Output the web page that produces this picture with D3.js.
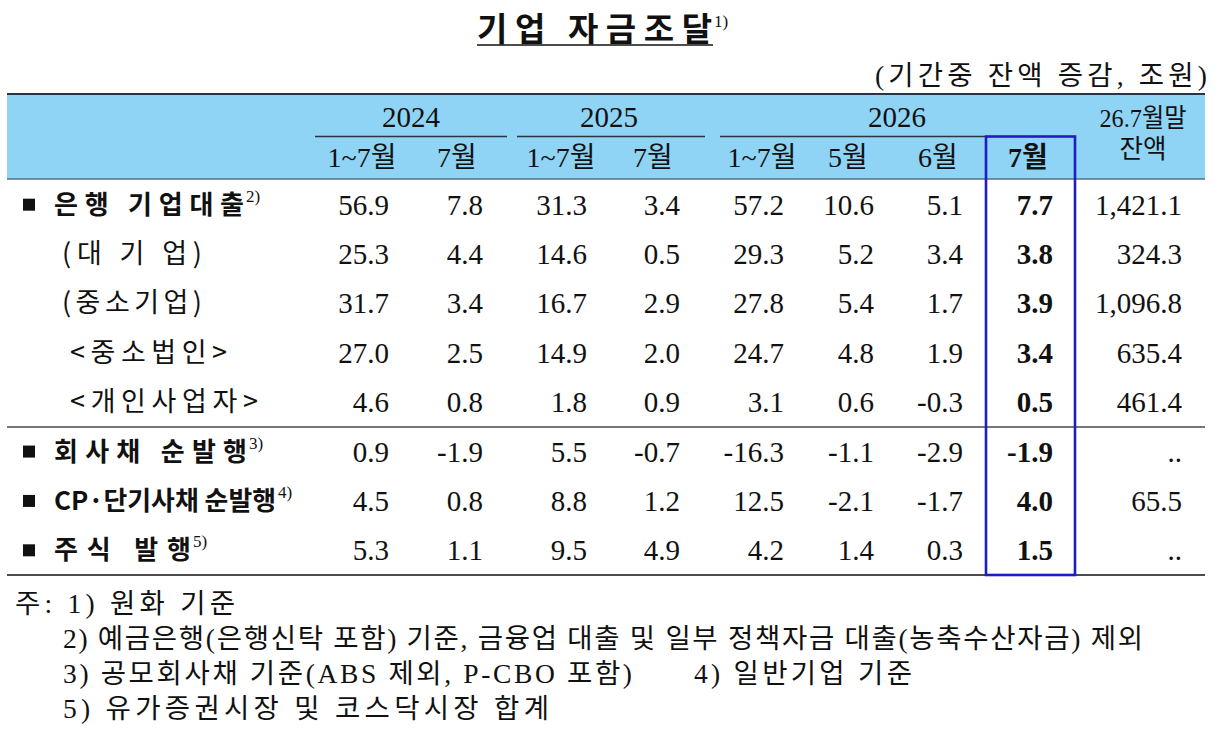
<!DOCTYPE html>
<html>
<head>
<meta charset="utf-8">
<script src="https://cdn.jsdelivr.net/npm/d3@7"></script>
<style>
  body { margin: 0; background: #fff; }
  svg { display: block; }
</style>
</head>
<body>
<script>
// Table text and values
const title = '기업 자금조달';
const titleNote = '1)';
const unitText = '(기간중 잔액 증감, 조원)';

const yearGroups = ['2024', '2025', '2026'];
const colHeads = ['1~7월', '7월', '1~7월', '7월', '1~7월', '5월', '6월', '7월'];
const balanceHead = ['26.7월말', '잔액'];

const rowLabels = [
    '은행  기업대출',
    '(대  기  업)',
    '(중소기업)',
    '<중소법인>',
    '<개인사업자>',
    '회사채 순발행',
    'CP·단기사채 순발행',
    '주식 발행',
];
const rowNotes = ['2)', '', '', '', '', '3)', '4)', '5)'];
const rowLevel = [0, 1, 1, 2, 2, 0, 0, 0];

const y2024Ytd = [56.9, 25.3, 31.7, 27.0, 4.6, 0.9, 4.5, 5.3];
const y2024Jul = [7.8, 4.4, 3.4, 2.5, 0.8, -1.9, 0.8, 1.1];
const y2025Ytd = [31.3, 14.6, 16.7, 14.9, 1.8, 5.5, 8.8, 9.5];
const y2025Jul = [3.4, 0.5, 2.9, 2.0, 0.9, -0.7, 1.2, 4.9];
const y2026Ytd = [57.2, 29.3, 27.8, 24.7, 3.1, -16.3, 12.5, 4.2];
const y2026May = [10.6, 5.2, 5.4, 4.8, 0.6, -1.1, -2.1, 1.4];
const y2026Jun = [5.1, 3.4, 1.7, 1.9, -0.3, -2.9, -1.7, 0.3];
const y2026Jul = [7.7, 3.8, 3.9, 3.4, 0.5, -1.9, 4.0, 1.5];
const balance = [1421.1, 324.3, 1096.8, 635.4, 461.4, null, 65.5, null];

const footnotes = [
    '주: 1)  원화  기준',
    '2) 예금은행(은행신탁 포함) 기준, 금융업 대출 및 일부 정책자금 대출(농축수산자금) 제외',
    '3) 공모회사채 기준(ABS 제외, P-CBO 포함)',
    '4) 일반기업 기준',
    '5) 유가증권시장 및 코스닥시장 합계',
];

// Layout
const W = 1219, H = 740;
const left = 7, right = 1205;
const headTop = 94, headBottom = 179, bodyBottom = 575;
const serif = "'Liberation Serif', 'Noto Sans CJK KR', serif";
const gothic = "'Noto Sans CJK KR', sans-serif";

const columns = [y2024Ytd, y2024Jul, y2025Ytd, y2025Jul, y2026Ytd, y2026May, y2026Jun, y2026Jul];

// right edge of numbers per column, header centres per column
const xRight = d3.scaleOrdinal().domain(d3.range(9))
    .range([389, 483, 587, 680, 784, 874, 963, 1053, 1182]);
const xHead = d3.scaleOrdinal().domain(d3.range(9))
    .range([362, 457, 561, 653, 762, 848, 938, 1028, 1143]);
const groupSpan = [[315, 507], [517, 705], [720, 985]];
const groupCenter = [411, 609, 897];

const yRow = d3.scaleBand().domain(d3.range(rowLabels.length)).range([headTop + 86, bodyBottom]);
const rowMid = (i) => yRow(i) + yRow.bandwidth() / 2;

// label widths taken from the reference layout
const labelWidth = [190, 140, 140, 157, 188, 193, 222, 137];
const labelX = [54, 62, 70];

// plain hyphen for negatives, as in the source table
const locale = d3.formatLocale({ decimal: '.', thousands: ',', grouping: [3], currency: ['', ''], minus: '-' });
const fmt = locale.format(',.1f');

const svg = d3.select('body').append('svg')
    .attr('width', W)
    .attr('height', H);

svg.append('rect').attr('width', W).attr('height', H).attr('fill', '#fff');

// Title
svg.append('text')
    .attr('x', 477).attr('y', 41)
    .attr('textLength', 235).attr('lengthAdjust', 'spacing')
    .style('font-family', gothic).style('font-weight', 700).style('font-size', '33px')
    .attr('fill', '#111')
    .text(title);
svg.append('line')
    .attr('x1', 477).attr('x2', 713).attr('y1', 45).attr('y2', 45)
    .attr('stroke', '#111').attr('stroke-width', 1.6);
svg.append('text')
    .attr('x', 714).attr('y', 27)
    .style('font-family', serif).style('font-size', '17px')
    .attr('fill', '#111')
    .text(titleNote);

// Unit
svg.append('text')
    .attr('x', 875).attr('y', 85)
    .attr('textLength', 332).attr('lengthAdjust', 'spacing')
    .style('font-family', serif).style('font-size', '27.5px')
    .attr('fill', '#111')
    .text(unitText);

// Header band
svg.append('rect')
    .attr('x', left).attr('y', headTop)
    .attr('width', right - left).attr('height', headBottom - headTop)
    .attr('fill', '#8fd3f5');
svg.append('line')
    .attr('x1', left).attr('x2', right).attr('y1', headTop).attr('y2', headTop)
    .attr('stroke', '#2b3540').attr('stroke-width', 2);
svg.append('line')
    .attr('x1', left).attr('x2', right).attr('y1', headBottom).attr('y2', headBottom)
    .attr('stroke', '#5d6e7e').attr('stroke-width', 1.5);

// Year groups
yearGroups.forEach((yr, g) => {
    svg.append('text')
        .attr('x', groupCenter[g]).attr('y', 127)
        .attr('text-anchor', 'middle')
        .style('font-family', serif).style('font-size', '29px')
        .attr('fill', '#111')
        .text(yr);
    svg.append('line')
        .attr('x1', groupSpan[g][0]).attr('x2', groupSpan[g][1])
        .attr('y1', 136.5).attr('y2', 136.5)
        .attr('stroke', '#2b3540').attr('stroke-width', 1.5);
});

// Column heads
colHeads.forEach((h, c) => {
    svg.append('text')
        .attr('x', xHead(c)).attr('y', 167)
        .attr('text-anchor', 'middle')
        .style('font-family', serif).style('font-size', '28px')
        .style('font-weight', c === 7 ? 700 : 400)
        .attr('fill', '#111')
        .text(h);
});
balanceHead.forEach((h, k) => {
    svg.append('text')
        .attr('x', xHead(8)).attr('y', k === 0 ? 127 : 158)
        .attr('text-anchor', 'middle')
        .attr('textLength', k === 0 ? 87 : 47).attr('lengthAdjust', 'spacingAndGlyphs')
        .style('font-family', serif).style('font-size', '26px')
        .attr('fill', '#111')
        .text(h);
});

// Row labels
rowLabels.forEach((lab, i) => {
    const lvl = rowLevel[i];
    const x0 = labelX[lvl];
    const cy = rowMid(i);
    if (lvl === 0) {
        svg.append('rect')
            .attr('x', 23).attr('y', cy - 6)
            .attr('width', 12).attr('height', 12)
            .attr('fill', '#111');
    }
    svg.append('text')
        .attr('x', x0).attr('y', cy + 9)
        .attr('textLength', labelWidth[i])
        .attr('lengthAdjust', i === 6 ? 'spacingAndGlyphs' : 'spacing')
        .style('font-family', gothic)
        .style('font-weight', lvl === 0 ? 700 : 400)
        .style('font-size', lvl === 0 ? '26px' : '27px')
        .attr('fill', '#111')
        .text(lab);
    if (rowNotes[i]) {
        svg.append('text')
            .attr('x', x0 + labelWidth[i] + 2).attr('y', cy - 3)
            .style('font-family', serif).style('font-size', '17px')
            .attr('fill', '#111')
            .text(rowNotes[i]);
    }
});

// Values
columns.forEach((vals, c) => {
    svg.append('g')
        .selectAll('text')
        .data(vals)
        .join('text')
        .attr('x', xRight(c))
        .attr('y', (d, i) => rowMid(i) + 10)
        .attr('text-anchor', 'end')
        .style('font-family', serif).style('font-size', '29px')
        .style('font-weight', c === 7 ? 700 : 400)
        .attr('fill', '#111')
        .text((d) => fmt(d));
});
svg.append('g')
    .selectAll('text')
    .data(balance)
    .join('text')
    .attr('x', xRight(8))
    .attr('y', (d, i) => rowMid(i) + 10)
    .attr('text-anchor', 'end')
    .style('font-family', serif).style('font-size', '29px')
    .attr('fill', '#111')
    .text((d) => (d == null ? '..' : fmt(d)));

// Row separators
svg.append('line')
    .attr('x1', left).attr('x2', right)
    .attr('y1', yRow(5)).attr('y2', yRow(5))
    .attr('stroke', '#777').attr('stroke-width', 2);
svg.append('line')
    .attr('x1', left).attr('x2', right)
    .attr('y1', bodyBottom).attr('y2', bodyBottom)
    .attr('stroke', '#111').attr('stroke-width', 1.6);

// Highlight box round latest month
svg.append('rect')
    .attr('x', 986).attr('y', 136.5)
    .attr('width', 89).attr('height', bodyBottom - 136.5)
    .attr('fill', 'none')
    .attr('stroke', '#1d1dc4').attr('stroke-width', 2.6);

// Footnotes
const noteBox = [[15, 613, 220], [63, 648, 1080], [63, 683, 569], [694, 683, 218], [63, 718, 486]];
footnotes.forEach((t, k) => {
    svg.append('text')
        .attr('x', noteBox[k][0]).attr('y', noteBox[k][1])
        .attr('textLength', noteBox[k][2]).attr('lengthAdjust', 'spacing')
        .style('font-family', serif).style('font-size', '27.5px')
        .attr('fill', '#111')
        .text(t);
});
</script>
</body>
</html>
